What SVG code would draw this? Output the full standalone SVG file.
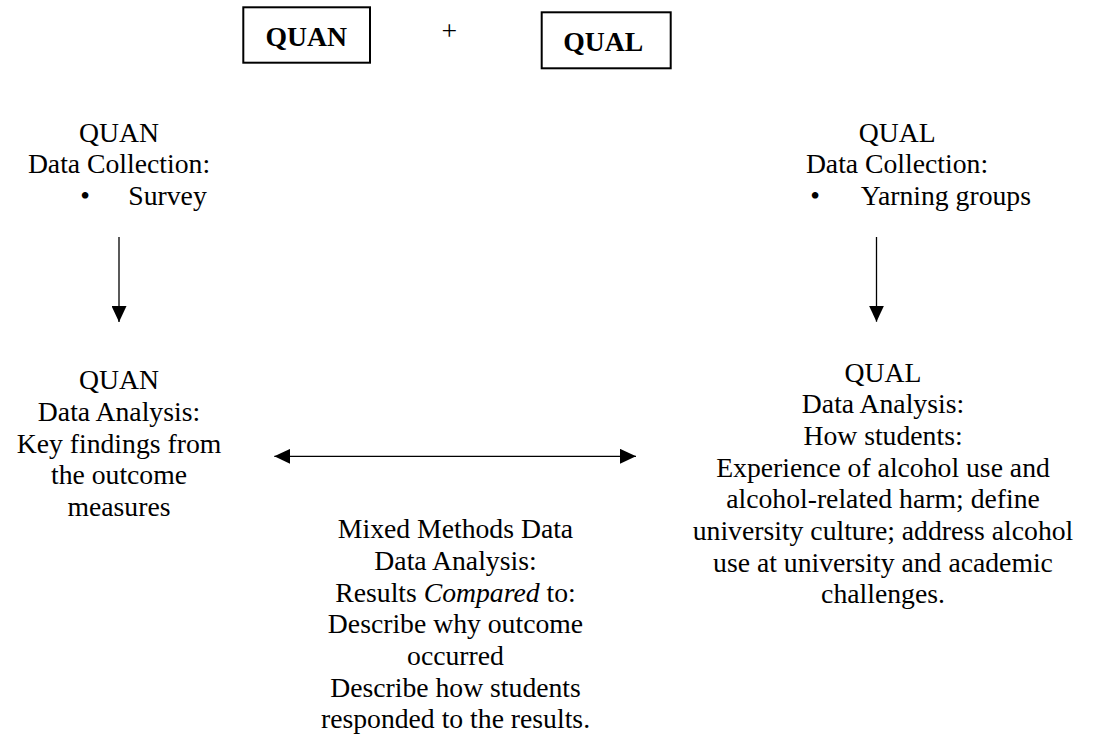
<svg xmlns="http://www.w3.org/2000/svg" width="1097" height="738" viewBox="0 0 1097 738">
  <style>
    .t { font-family: "Liberation Serif", "Times New Roman", serif; font-size: 27.7px; fill: #000; }
    .c { text-anchor: middle; }
    .b { font-weight: bold; }
    .box { fill: #fff; stroke: #000; stroke-width: 2; }
    .con { stroke: #000; stroke-width: 1.3; fill: none; }
  </style>
  <defs>
    <marker id="head" viewBox="0 0 16 15" refX="16" refY="7.5" markerWidth="16" markerHeight="15" markerUnits="userSpaceOnUse" orient="auto-start-reverse">
      <path d="M0,0 L16,7.5 L0,15 z" fill="#000"/>
    </marker>
  </defs>
  <rect width="1097" height="738" fill="#fff"/>

  <g id="quan-title">
    <rect class="box" x="243.3" y="7.3" width="126.7" height="55.4"/>
    <text class="t c b" x="306.3" y="45.7">QUAN</text>
  </g>
  <g id="plus">
    <text class="t c" x="449.3" y="39.6">+</text>
  </g>
  <g id="qual-title">
    <rect class="box" x="541.7" y="12.3" width="129" height="56"/>
    <text class="t c b" x="603.3" y="50.5">QUAL</text>
  </g>

  <g id="quan-collection">
    <text class="t c" x="119" y="141.5">QUAN</text>
    <text class="t c" x="119" y="173">Data Collection:</text>
    <text class="t" x="80.2" y="204.5">•</text>
    <text class="t" x="128.3" y="204.5">Survey</text>
  </g>

  <g id="qual-collection">
    <text class="t c" x="897.3" y="141.5">QUAL</text>
    <text class="t c" x="897" y="173">Data Collection:</text>
    <text class="t" x="810.2" y="204.5">•</text>
    <text class="t" x="860.7" y="204.5">Yarning groups</text>
  </g>

  <g id="quan-analysis">
    <text class="t c" x="119" y="389.3">QUAN</text>
    <text class="t c" x="119" y="421">Data Analysis:</text>
    <text class="t c" x="119" y="452.7">Key findings from</text>
    <text class="t c" x="119" y="484.3">the outcome</text>
    <text class="t c" x="119" y="516">measures</text>
  </g>

  <g id="qual-analysis">
    <text class="t c" x="883" y="381.7">QUAL</text>
    <text class="t c" x="883" y="413.4">Data Analysis:</text>
    <text class="t c" x="883" y="445">How students:</text>
    <text class="t c" x="883" y="476.7">Experience of alcohol use and</text>
    <text class="t c" x="883" y="508.3">alcohol-related harm; define</text>
    <text class="t c" x="883" y="540">university culture; address alcohol</text>
    <text class="t c" x="883" y="571.7">use at university and academic</text>
    <text class="t c" x="883" y="603.3">challenges.</text>
  </g>

  <g id="mixed-methods">
    <text class="t c" x="455.5" y="538.4">Mixed Methods Data</text>
    <text class="t c" x="455.5" y="570">Data Analysis:</text>
    <text class="t c" x="455.5" y="601.7">Results <tspan font-style="italic">Compared</tspan> to:</text>
    <text class="t c" x="455.5" y="633.3">Describe why outcome</text>
    <text class="t c" x="455.5" y="665">occurred</text>
    <text class="t c" x="455.5" y="696.7">Describe how students</text>
    <text class="t c" x="455.5" y="728.3">responded to the results.</text>
  </g>

  <g id="connectors">
    <line class="con" x1="119" y1="237" x2="119" y2="322" marker-end="url(#head)"/>
    <line class="con" x1="876.5" y1="237" x2="876.5" y2="321.7" marker-end="url(#head)"/>
    <line class="con" x1="274.3" y1="456.3" x2="636" y2="456.3" marker-start="url(#head)" marker-end="url(#head)"/>
  </g>
</svg>
